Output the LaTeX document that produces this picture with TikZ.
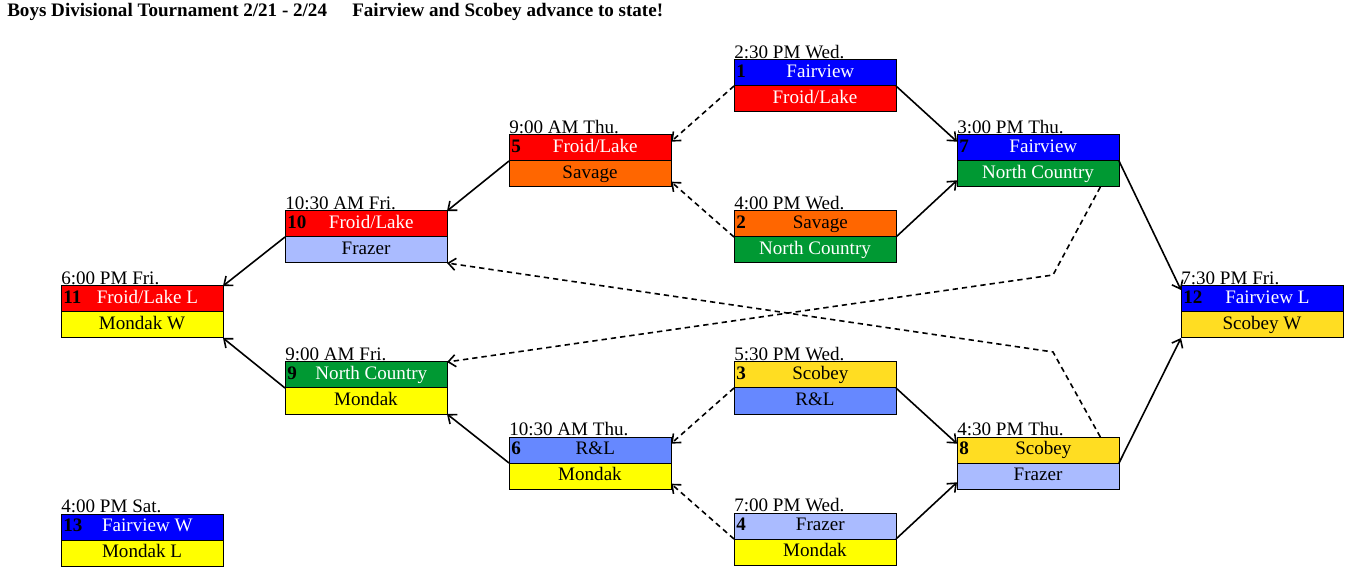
\documentclass[tikz,border=0pt]{standalone}
\usepackage{fontspec}
\setmainfont{Liberation Serif}
\usetikzlibrary{arrows.meta,positioning}
\definecolor{fvblue}{HTML}{0000FF}
\definecolor{flred}{HTML}{FF0000}
\definecolor{svorange}{HTML}{FF6600}
\definecolor{ncgreen}{HTML}{009933}
\definecolor{mdyellow}{HTML}{FFFF00}
\definecolor{scgold}{HTML}{FFDD22}
\definecolor{rlblue}{HTML}{6688FF}
\definecolor{fzblue}{HTML}{AABBFF}

% one game: name, top-left corner, number, time, top team style and text, bottom team style and text
\newcommand{\game}[8]{%
  \node[row,#5,anchor=north west] (#1t) at (#2) {\hspace*{8pt}#6};
  \node[row,#7,below=0pt of #1t] (#1b) {#8};
  \node[gnum,right=1.5pt of #1t.west,yshift=1.5pt] (#1n) {#3};
  \node[gtime,above right=1pt and 0pt of #1t.north west] (#1w) {#4};
}

\begin{document}
\begin{tikzpicture}[
  x=0.75pt, y=-0.75pt,
  font=\fontsize{14.3}{17}\selectfont,
  row/.style={draw, line width=0.75pt, minimum width=121.5pt, minimum height=19.5pt,
    inner sep=0pt, outer sep=0pt, text height=10pt, text depth=3pt},
  gnum/.style={font=\fontsize{14.3}{17}\selectfont\bfseries, inner sep=0pt},
  gtime/.style={inner sep=0pt},
  ttl/.style={font=\fontsize{14.3}{17}\selectfont\bfseries, inner sep=0pt, anchor=base west},
  fairview/.style={fill=fvblue, text=white},
  froid/.style={fill=flred, text=white},
  savage/.style={fill=svorange},
  northc/.style={fill=ncgreen, text=white},
  mondak/.style={fill=mdyellow},
  scobey/.style={fill=scgold},
  rl/.style={fill=rlblue},
  frazer/.style={fill=fzblue},
  win/.style={line width=1.2pt, -{Straight Barb[length=5.5pt,width=9pt]}},
  lose/.style={win, dash pattern=on 4pt off 3pt},
]
\useasboundingbox (0,0) rectangle (1350,577);

\node[ttl] (head) at (7,17) {Boys Divisional Tournament 2/21 - 2/24};
\node[ttl] (news) at (352,17) {Fairview and Scobey advance to state!};

% first round
\game{g1}{734,60}{1}{2:30 PM Wed.}{fairview}{Fairview}{froid}{Froid/Lake}
\game{g2}{734,211}{2}{4:00 PM Wed.}{savage}{Savage}{northc}{North Country}
\game{g3}{734,362}{3}{5:30 PM Wed.}{scobey}{Scobey}{rl}{R\&L}
\game{g4}{734,513}{4}{7:00 PM Wed.}{frazer}{Frazer}{mondak}{Mondak}
% thursday
\game{g5}{509,135}{5}{9:00 AM Thu.}{froid}{Froid/Lake}{savage}{Savage}
\game{g6}{509,437}{6}{10:30 AM Thu.}{rl}{R\&L}{mondak}{Mondak}
\game{g7}{957,135}{7}{3:00 PM Thu.}{fairview}{Fairview}{northc}{North Country}
\game{g8}{957,437}{8}{4:30 PM Thu.}{scobey}{Scobey}{frazer}{Frazer}
% friday and saturday
\game{g9}{285,362}{9}{9:00 AM Fri.}{northc}{North Country}{mondak}{Mondak}
\game{g10}{285,211}{10}{10:30 AM Fri.}{froid}{Froid/Lake}{frazer}{Frazer}
\game{g11}{61,286}{11}{6:00 PM Fri.}{froid}{Froid/Lake L}{mondak}{Mondak W}
\game{g12}{1181,286}{12}{7:30 PM Fri.}{fairview}{Fairview L}{scobey}{Scobey W}
\game{g13}{61,514}{13}{4:00 PM Sat.}{fairview}{Fairview W}{mondak}{Mondak L}

\coordinate (k1) at (1053,275);
\coordinate (k2) at (1053,352);

% winners go right, losers go left
\draw[lose] (g1t.south west) -- ([yshift=-5pt]g5t.north east);
\draw[lose] (g2t.south west) -- ([yshift=4pt]g5b.south east);
\draw[lose] (g3t.south west) -- ([yshift=-5pt]g6t.north east);
\draw[lose] (g4t.south west) -- ([yshift=4pt]g6b.south east);
\draw[win] (g1t.south east) -- ([yshift=-5pt]g7t.north west);
\draw[win] (g2t.south east) -- ([yshift=5pt]g7b.south west);
\draw[win] (g3t.south east) -- ([yshift=-5pt]g8t.north west);
\draw[win] (g4t.south east) -- ([yshift=5pt]g8b.south west);

\draw[win] (g5t.south west) -- (g10t.north east);
\draw[win] (g6t.south west) -- (g9b.south east);
\draw[win] (g10t.south west) -- (g11t.north east);
\draw[win] (g9t.south west) -- (g11b.south east);
\draw[win] (g7t.south east) -- ([yshift=-3pt]g12t.north west);
\draw[win] (g8t.south east) -- (g12b.south west);

\draw[lose] ([xshift=-14pt]g7b.south east) -- (k1) -- (g9t.north east);
\draw[lose] ([xshift=-14pt]g8t.north east) -- (k2) -- (g10b.south east);
\end{tikzpicture}
\end{document}
